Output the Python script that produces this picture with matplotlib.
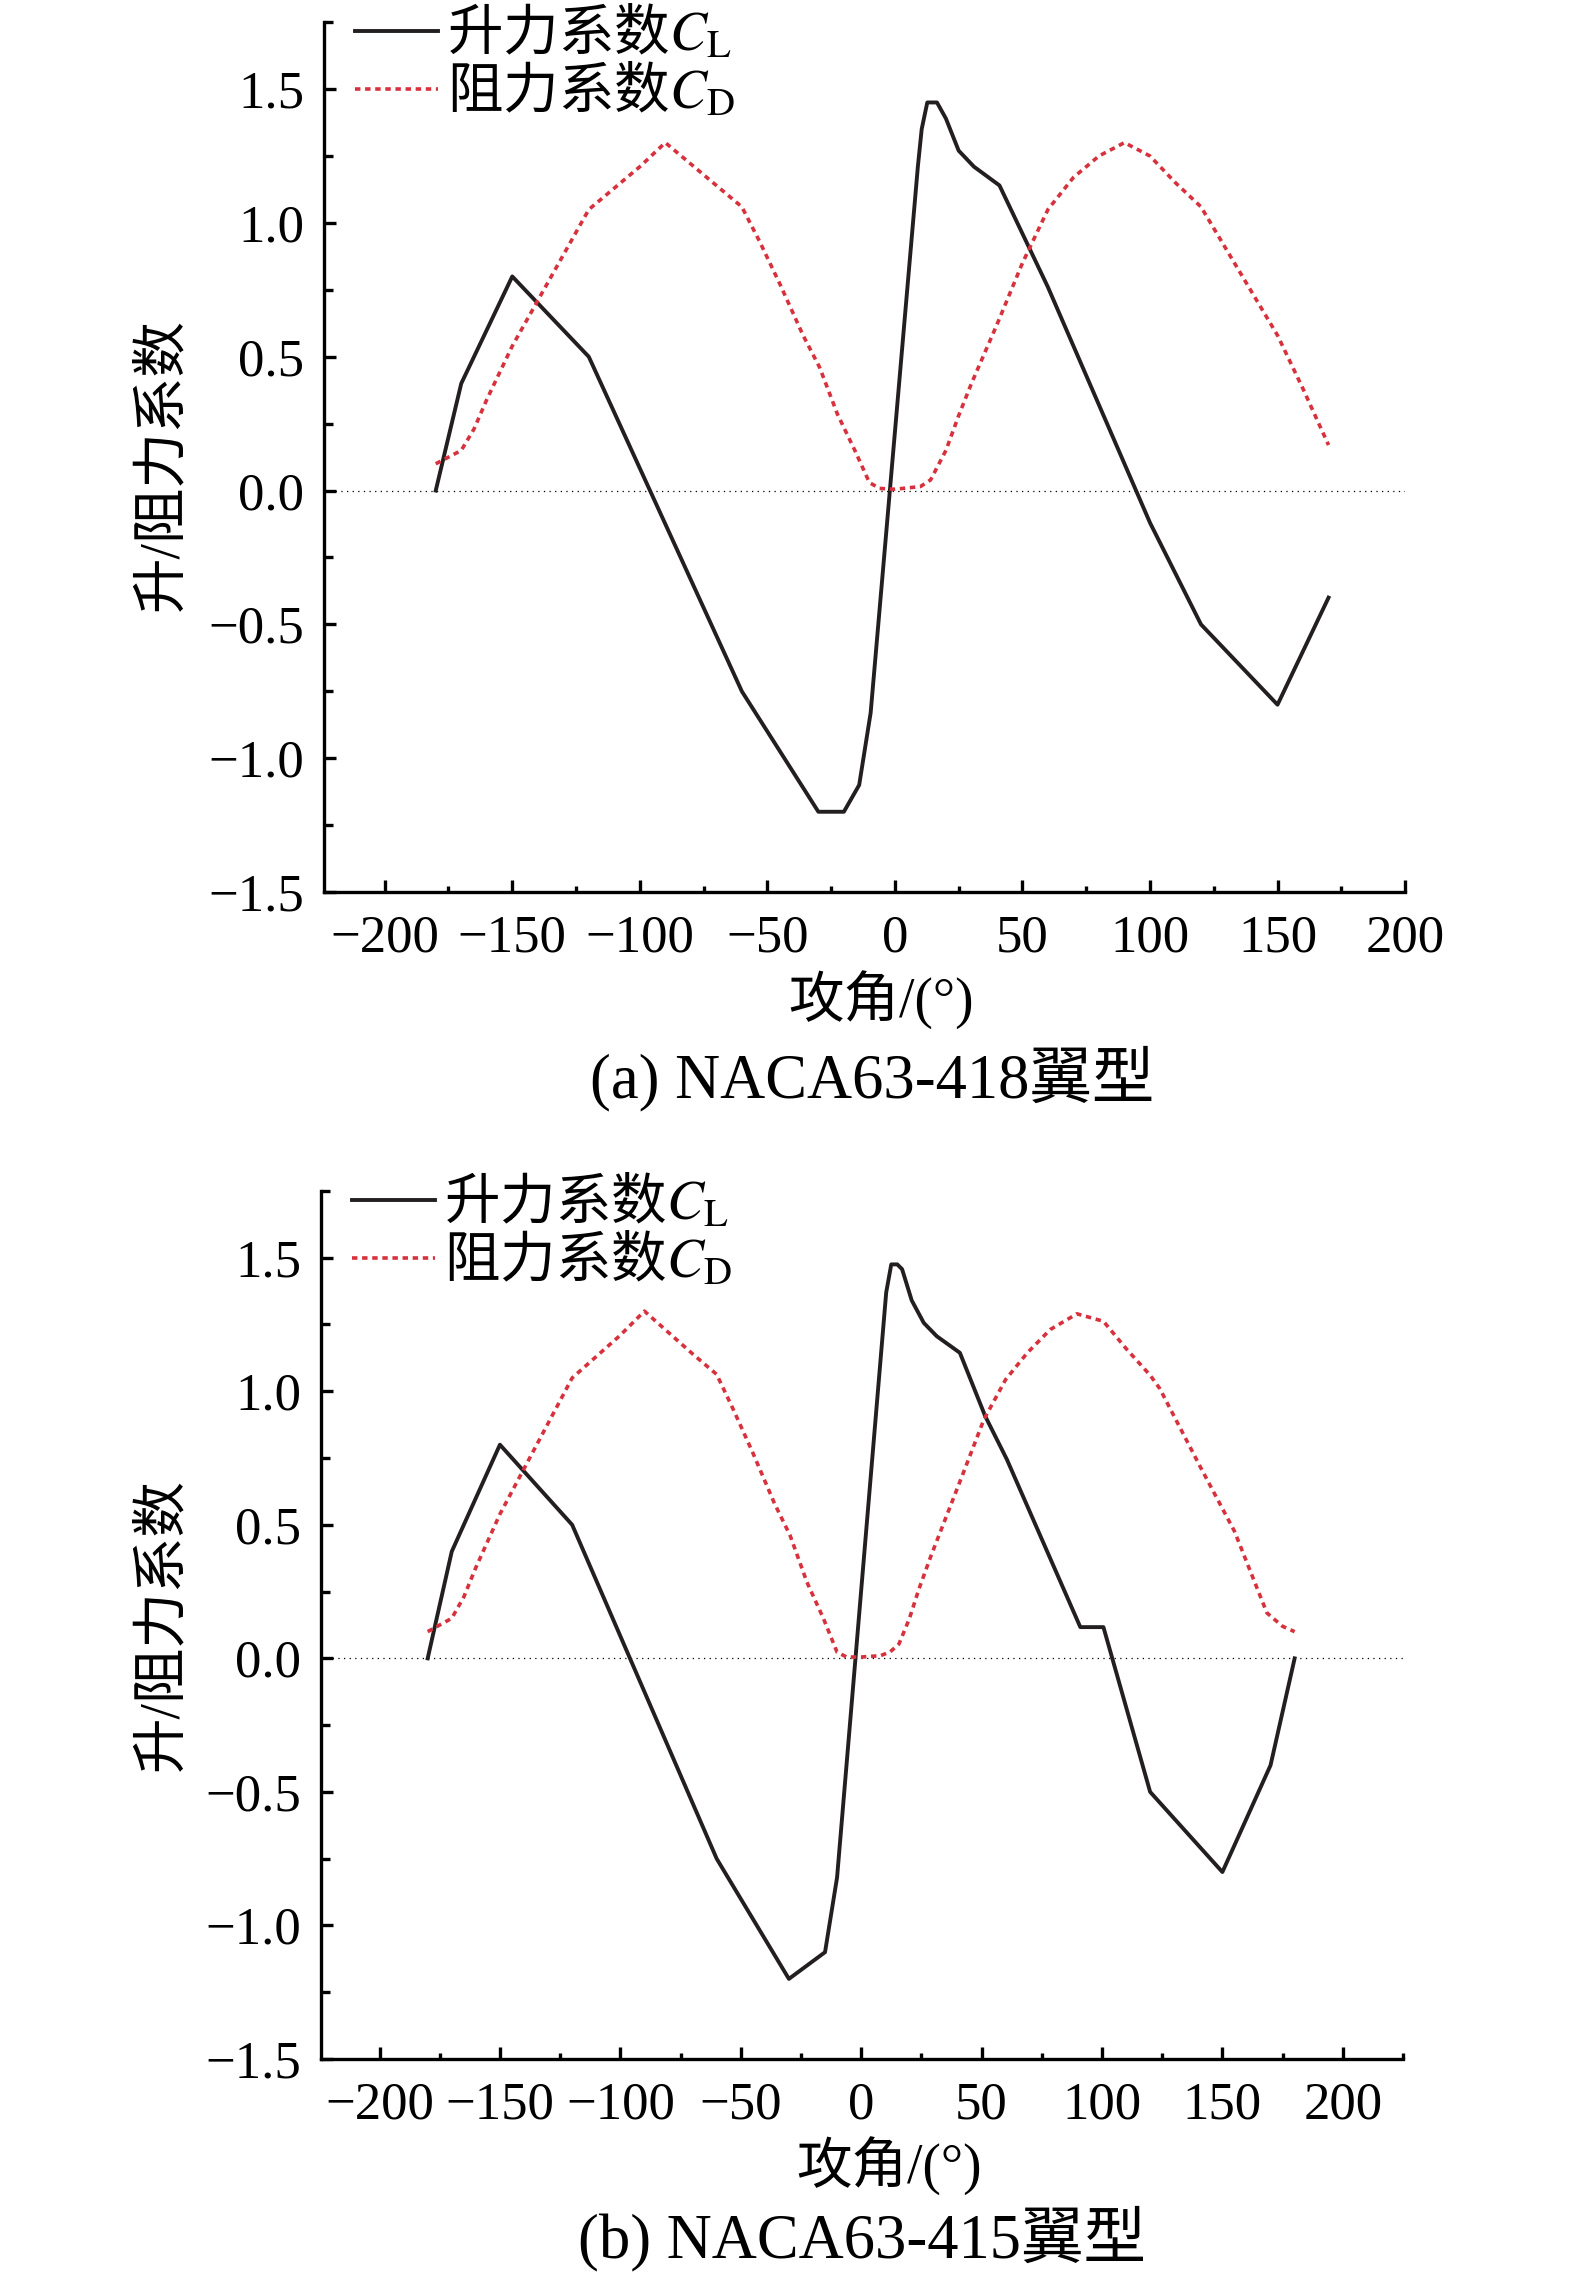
import matplotlib
matplotlib.use('Agg')
import matplotlib.pyplot as plt
from matplotlib.font_manager import FontProperties
from matplotlib.ticker import MultipleLocator

plt.rcParams['font.family'] = ['Liberation Serif', 'Noto Sans CJK SC']
plt.rcParams['mathtext.fontset'] = 'stix'
plt.rcParams['axes.unicode_minus'] = True

# (a) NACA63-418
a_cl_x = [-180, -170, -150, -120, -60, -30, -20, -14, -9.5, 9, 10.5, 12.7, 16.5, 20, 25, 31, 41, 60, 100, 120, 150, 170]
a_cl_y = [0.0, 0.40, 0.80, 0.50, -0.75, -1.20, -1.20, -1.10, -0.83, 1.21, 1.35, 1.45, 1.45, 1.39, 1.27, 1.21, 1.14, 0.76, -0.12, -0.50, -0.80, -0.40]
a_cd_x = [-180, -170, -165, -160, -150, -140, -130, -120, -110, -100, -90, -80, -70, -60, -53, -45, -36, -29.5, -22.5, -15.6, -10, -6, 0, 10, 14,
          20, 25, 30, 40, 50, 60, 70, 80, 90, 100, 110, 120, 130, 140, 150, 160, 170]
a_cd_y = [0.10, 0.15, 0.23, 0.34, 0.54, 0.71, 0.88, 1.05, 1.13, 1.21, 1.30, 1.22, 1.14, 1.06, 0.93, 0.77, 0.58, 0.46, 0.285, 0.148, 0.03, 0.008, 0.005, 0.015, 0.04,
          0.15, 0.28, 0.40, 0.62, 0.85, 1.05, 1.17, 1.25, 1.30, 1.25, 1.15, 1.06, 0.90, 0.74, 0.58, 0.38, 0.17]

# (b) NACA63-415
b_cl_x = [-180, -170, -150, -120, -60, -30, -15, -10, 10.4, 12.5, 15, 17, 21, 26, 31.4, 41, 51.5, 60.5, 91, 100.6, 120, 150, 170, 180]
b_cl_y = [0.0, 0.40, 0.80, 0.50, -0.75, -1.20, -1.10, -0.82, 1.37, 1.475, 1.475, 1.457, 1.34, 1.256, 1.206, 1.144, 0.907, 0.745, 0.117, 0.117, -0.50, -0.80, -0.40, 0.0]
b_cd_x = [-180, -170, -165, -160, -150, -140, -130, -120, -110, -100, -90, -80, -70, -60, -53, -45, -36, -29.5, -22.5, -15.6, -10, -6, 0, 8, 12,
          15.7, 20, 24, 29, 36, 43, 51, 60, 69, 78.5, 89.6, 100.6, 110, 120, 124, 141, 155, 168.5, 175, 180]
b_cd_y = [0.10, 0.15, 0.23, 0.34, 0.54, 0.71, 0.88, 1.05, 1.13, 1.21, 1.30, 1.22, 1.14, 1.063, 0.93, 0.77, 0.58, 0.46, 0.285, 0.148, 0.023, 0.005, 0.005, 0.01, 0.024,
          0.054, 0.148, 0.26, 0.384, 0.546, 0.708, 0.895, 1.044, 1.144, 1.231, 1.29, 1.262, 1.16, 1.06, 1.01, 0.714, 0.476, 0.17, 0.12, 0.10]

cl_label = '升力系数$C_{\\mathrm{L}}$'
cd_label = '阻力系数$C_{\\mathrm{D}}$'
xlabel = '攻角/(°)'
ylabel = '升/阻力系数'

red = '#d7313e'
dark = '#231f20'

fig = plt.figure(figsize=(15.75, 22.85), dpi=100)
ax1 = fig.add_axes([0.2054, 0.6096, 0.6867, 0.3807])
ax2 = fig.add_axes([0.2035, 0.0989, 0.6873, 0.3799])


def panel(ax, clx, cly, cdx, cdy, xlim, caption, xl_pos, cap_pos, yl_pos):
    ax.axhline(0, color='k', lw=0.9, ls=(0, (1, 3.5)))
    ax.plot(clx, cly, color=dark, lw=2.8, label=cl_label)
    ax.plot(cdx, cdy, color=red, lw=2.6, ls=(0, (1.5, 1.3)), label=cd_label)
    ax.set_xlim(*xlim)
    ax.set_ylim(-1.5, 1.75)
    ax.xaxis.set_major_locator(MultipleLocator(50))
    ax.xaxis.set_minor_locator(MultipleLocator(25))
    ax.yaxis.set_major_locator(MultipleLocator(0.5))
    ax.yaxis.set_minor_locator(MultipleLocator(0.25))
    ax.yaxis.set_major_formatter(lambda v, p: f'{v:.1f}'.replace('-', '\u2212'))
    for s in ['top', 'right']:
        ax.spines[s].set_visible(False)
    for s in ['left', 'bottom']:
        ax.spines[s].set_linewidth(2.4)
    ax.tick_params(which='both', direction='in', width=2.4, labelsize=38, pad=14)
    ax.tick_params(which='major', length=8.5)
    ax.tick_params(axis='x', which='minor', length=4)
    ax.tick_params(axis='y', which='minor', length=6.5)
    ax.tick_params(axis='x', pad=16)
    ax.set_xlabel(xlabel, fontsize=40)
    ax.xaxis.set_label_coords(*xl_pos)
    ax.xaxis.label.set_va('center')
    ax.set_ylabel(ylabel, fontsize=40)
    ax.yaxis.set_label_coords(*yl_pos)
    ax.yaxis.label.set_va('center')
    ax.text(cap_pos[0], cap_pos[1], caption, transform=ax.transAxes, ha='center', va='center', fontsize=45)
    ax.legend(loc='upper left', bbox_to_anchor=(0.029, 1.02), frameon=False, borderaxespad=0, borderpad=0,
              handlelength=1.5, handletextpad=0.15, labelspacing=0.0,
              prop=FontProperties(family='Noto Sans CJK SC', size=40))


panel(ax1, a_cl_x, a_cl_y, a_cd_x, a_cd_y, (-224, 200), '(a) NACA63-418翼型',
      (0.5155, -0.125), (0.507, -0.214), (-0.148, 0.491))
panel(ax2, b_cl_x, b_cl_y, b_cd_x, b_cd_y, (-224.5, 225), '(b) NACA63-415翼型',
      (0.525, -0.124), (0.500, -0.207), (-0.1455, 0.5))

fig.savefig('out.png', dpi=100)
